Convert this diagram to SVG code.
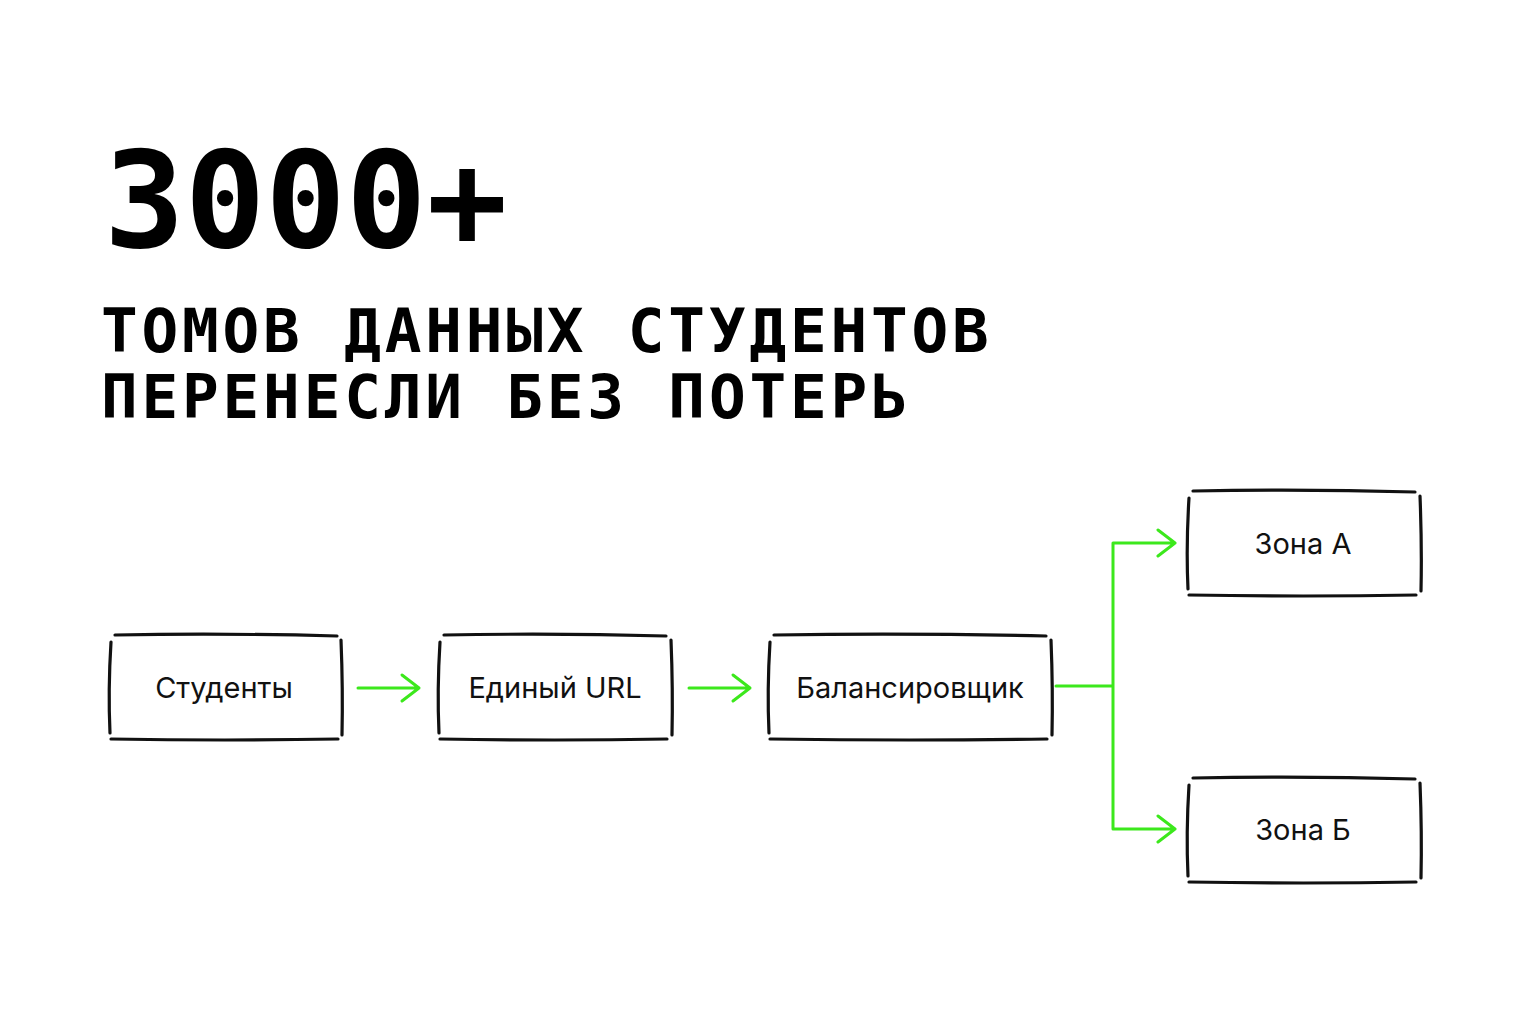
<svg xmlns="http://www.w3.org/2000/svg" width="1536" height="1024" viewBox="0 0 1536 1024">
<style>
.big{font-family:"DejaVu Sans Mono","Liberation Mono",monospace;font-weight:bold;fill:#000}
.sub{font-family:"DejaVu Sans Mono","Liberation Mono",monospace;font-weight:bold;fill:#000;font-size:61px;letter-spacing:3.8px}
.box path{fill:none;stroke:#111;stroke-width:3.2;stroke-linecap:round}
.lbl{font-family:Inter,"Liberation Sans",sans-serif;font-size:29px;fill:#111;text-anchor:middle}
.conn path{fill:none;stroke:#3ce81c;stroke-width:3;stroke-linecap:round;stroke-linejoin:round}
</style>
<rect width="1536" height="1024" fill="#fff"/>
<text class="big" x="104" y="247" font-size="134">3000+</text>
<text class="sub" x="101" y="352">ТОМОВ ДАННЫХ СТУДЕНТОВ</text>
<text class="sub" x="101" y="418">ПЕРЕНЕСЛИ БЕЗ ПОТЕРЬ</text>

<g id="node-students" class="box">
<path d="M115 635 Q225 633 337 636"/>
<path d="M111 739 Q225 741 338 739"/>
<path d="M111 642 Q108 690 110 733"/>
<path d="M341 640 Q343 690 342 735"/>
<text class="lbl" x="224" y="698">Студенты</text>
</g>
<g id="node-url" class="box">
<path d="M444 635 Q555 633 666 636"/>
<path d="M440 739 Q555 741 667 739"/>
<path d="M440 642 Q437 690 439 733"/>
<path d="M671 640 Q673 690 672 735"/>
<text class="lbl" x="555" y="698">Единый URL</text>
</g>
<g id="node-balancer" class="box">
<path d="M774 635 Q910 633 1046 636"/>
<path d="M770 739 Q910 741 1047 739"/>
<path d="M770 642 Q767 690 769 733"/>
<path d="M1051 640 Q1053 690 1052 735"/>
<text class="lbl" x="910" y="698">Балансировщик</text>
</g>
<g id="node-zone-a" class="box">
<path d="M1193 491 Q1304 489 1415 492"/>
<path d="M1189 595 Q1304 597 1416 595"/>
<path d="M1189 498 Q1186 546 1188 589"/>
<path d="M1420 496 Q1422 546 1421 591"/>
<text class="lbl" x="1303" y="554">Зона А</text>
</g>
<g id="node-zone-b" class="box">
<path d="M1193 778 Q1304 776 1415 779"/>
<path d="M1189 882 Q1304 884 1416 882"/>
<path d="M1189 785 Q1186 833 1188 876"/>
<path d="M1420 783 Q1422 833 1421 878"/>
<text class="lbl" x="1303" y="840">Зона Б</text>
</g>

<g id="connectors" class="conn">
<path d="M358 688 H419 M402 675 L419 688 L402 701"/>
<path d="M689 688 H750 M733 675 L750 688 L733 701"/>
<path d="M1056 686 H1113 M1113 543 V829 M1113 543 H1175 M1158 530 L1175 543 L1158 556 M1113 829 H1175 M1158 816 L1175 829 L1158 842"/>
</g>
</svg>
